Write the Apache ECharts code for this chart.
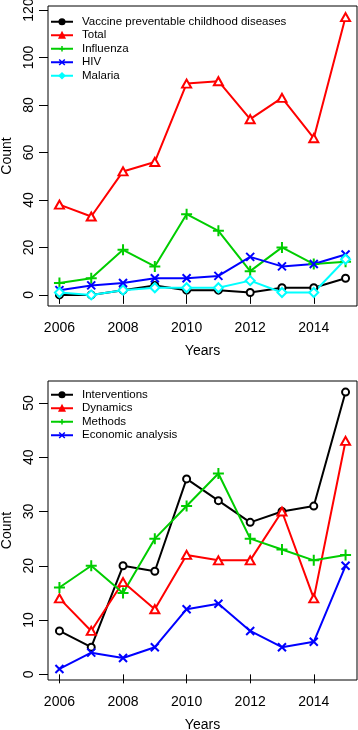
<!DOCTYPE html>
<html>
<head>
<meta charset="utf-8">
<script src="https://cdn.jsdelivr.net/npm/echarts@6/dist/echarts.min.js"></script>
<style>
html, body { margin: 0; padding: 0; background: #fff; }
#chart { width: 358px; height: 730px; }
</style>
</head>
<body>
<div id="chart"></div>
<script>
// x values shared by both panels
const years = [2006, 2007, 2008, 2009, 2010, 2011, 2012, 2013, 2014, 2015];
const xTicks = [2006, 2008, 2010, 2012, 2014];

// top panel: diseases
const vaccine = [0, 0, 2, 4, 2, 2, 1, 3, 3, 7];
const total = [38, 33, 52, 56, 89, 90, 74, 83, 66, 117];
const influenza = [5, 7, 19, 12, 34, 27, 10, 20, 13, 14];
const hiv = [2, 4, 5, 7, 7, 8, 16, 12, 13, 17];
const malaria = [1, 0, 2, 3, 3, 3, 6, 1, 1, 15];
const topTicks = [0, 20, 40, 60, 80, 100, 120];

// bottom panel: study type
const interventions = [8, 5, 20, 19, 36, 32, 28, 30, 31, 52];
const dynamics = [14, 8, 17, 12, 22, 21, 21, 30, 14, 43];
const methods = [16, 20, 15, 25, 31, 37, 25, 23, 21, 22];
const economic = [1, 4, 3, 5, 12, 13, 8, 5, 6, 20];
const bottomTicks = [0, 10, 20, 30, 40, 50];

const FONT = "'Liberation Sans', Arial, Helvetica, sans-serif";
const PLUS = 'path://M0,5L10,5M5,0L5,10';
const CROSS = 'path://M0,0L10,10M10,0L0,10';

const marks = {
    circle: { symbol: 'circle', size: 7 },
    triangle: { symbol: 'triangle', size: [9, 8] },
    plus: { symbol: PLUS, size: 11 },
    cross: { symbol: CROSS, size: 8 },
    diamond: { symbol: 'diamond', size: 9 }
};

function pairs(vals) {
    return years.map((y, i) => [y, vals[i]]);
}

function makeSeries(name, vals, color, mark, idx) {
    const m = marks[mark];
    const open = mark === 'circle' || mark === 'triangle' || mark === 'diamond';
    return {
        name: name,
        type: 'line',
        xAxisIndex: idx,
        yAxisIndex: idx,
        data: pairs(vals),
        symbol: m.symbol,
        symbolSize: m.size,
        showAllSymbol: true,
        lineStyle: { color: color, width: 2 },
        itemStyle: {
            color: open ? '#fff' : color,
            borderColor: color,
            borderWidth: 2
        },
        emphasis: { disabled: true }
    };
}

function legendItems(list) {
    return list.map(d => ({
        name: d[0],
        itemStyle: { color: d[1], borderColor: d[1], borderWidth: 1.5 }
    }));
}

function xAxisFor(idx) {
    return {
        type: 'value',
        gridIndex: idx,
        min: 2005.64,
        max: 2015.36,
        axisLine: { show: false },
        splitLine: { show: false },
        axisTick: { show: true, inside: false, length: 9, customValues: xTicks, lineStyle: { color: '#000' } },
        axisLabel: { customValues: xTicks, formatter: v => String(v), margin: 15, fontSize: 14, color: '#000', fontFamily: FONT },
        name: 'Years',
        nameLocation: 'middle',
        nameGap: 38,
        nameTextStyle: { fontSize: 14, color: '#000', fontFamily: FONT }
    };
}

function yAxisFor(idx, min, max, ticks) {
    return {
        type: 'value',
        gridIndex: idx,
        min: min,
        max: max,
        axisLine: { show: false },
        splitLine: { show: false },
        axisTick: { show: true, inside: false, length: 9, customValues: ticks, lineStyle: { color: '#000' } },
        axisLabel: { customValues: ticks, rotate: 90, margin: 12, fontSize: 14, color: '#000', fontFamily: FONT },
        name: 'Count',
        nameLocation: 'middle',
        nameGap: 31,
        nameTextStyle: { fontSize: 14, color: '#000', fontFamily: FONT }
    };
}

const topList = [
    ['Vaccine preventable childhood diseases', '#000000', vaccine, 'circle'],
    ['Total', '#FF0000', total, 'triangle'],
    ['Influenza', '#00CD00', influenza, 'plus'],
    ['HIV', '#0000FF', hiv, 'cross'],
    ['Malaria', '#00FFFF', malaria, 'diamond']
];
const bottomList = [
    ['Interventions', '#000000', interventions, 'circle'],
    ['Dynamics', '#FF0000', dynamics, 'triangle'],
    ['Methods', '#00CD00', methods, 'plus'],
    ['Economic analysis', '#0000FF', economic, 'cross']
];

const legendBase = {
    orient: 'vertical',
    left: 50,
    padding: 0,
    itemWidth: 22,
    itemHeight: 7,
    itemGap: 0,
    selectedMode: false,
    textStyle: { fontSize: 11.5, lineHeight: 13.5, color: '#000', fontFamily: FONT, padding: [0, 0, 0, 4] }
};

const series = [];
topList.forEach(d => series.push(makeSeries(d[0], d[2], d[1], d[3], 0)));
bottomList.forEach(d => series.push(makeSeries(d[0], d[2], d[1], d[3], 1)));

const myChart = echarts.init(document.getElementById('chart'), null, { renderer: 'canvas' });
const option = {
    animation: false,
    backgroundColor: '#fff',
    textStyle: { fontFamily: FONT },
    grid: [
        { left: 48, top: 6, width: 309, height: 300, show: true, borderColor: '#000', borderWidth: 1, backgroundColor: 'transparent', containLabel: false, outerBoundsMode: 'none' },
        { left: 48, top: 381, width: 309, height: 299, show: true, borderColor: '#000', borderWidth: 1, backgroundColor: 'transparent', containLabel: false, outerBoundsMode: 'none' }
    ],
    legend: [
        Object.assign({}, legendBase, { top: 15, data: legendItems(topList) }),
        Object.assign({}, legendBase, { top: 388, data: legendItems(bottomList) })
    ],
    xAxis: [xAxisFor(0), xAxisFor(1)],
    yAxis: [
        yAxisFor(0, -4.68, 121.68, topTicks),
        yAxisFor(1, -1.04, 54.04, bottomTicks)
    ],
    series: series
};
option && myChart.setOption(option);
</script>
</body>
</html>
